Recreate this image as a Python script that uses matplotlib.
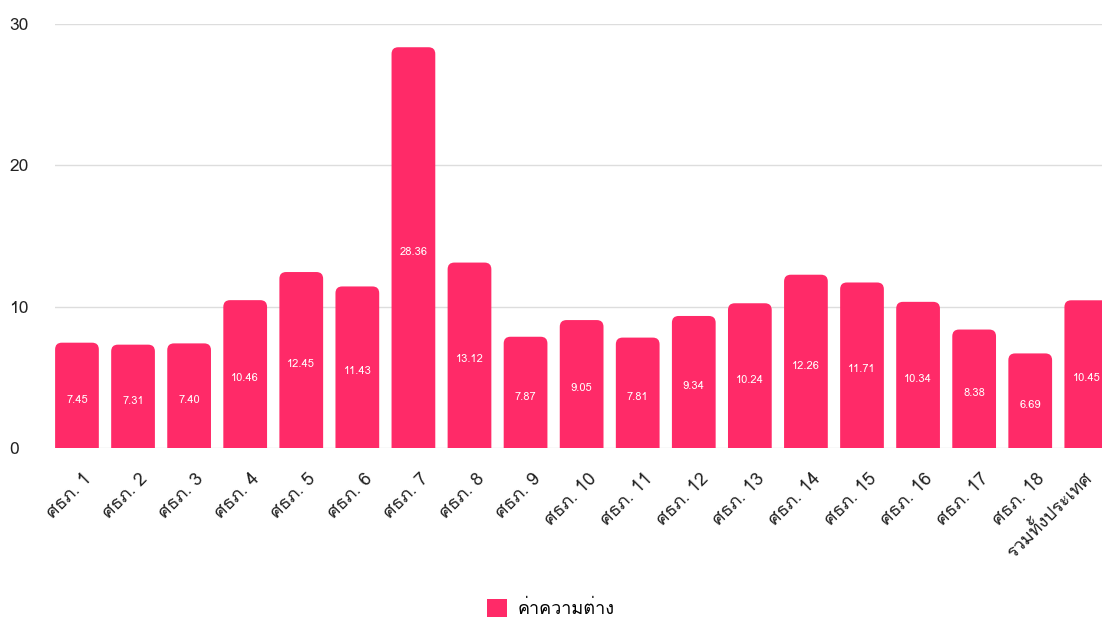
import matplotlib
matplotlib.use('Agg')
import matplotlib.pyplot as plt
import matplotlib.transforms as mtrans
from matplotlib import font_manager
from matplotlib.ft2font import FT2Font
from matplotlib.patches import FancyBboxPatch, Patch

categories = ['ศธภ. %d' % i for i in range(1, 19)] + ['รวมทั้งประเทศ']
values = [7.45, 7.31, 7.40, 10.46, 12.45, 11.43, 28.36, 13.12, 7.87, 9.05,
          7.81, 9.34, 10.24, 12.26, 11.71, 10.34, 8.38, 6.69, 10.45]
value_labels = ['%.2f' % v for v in values]
legend_label = 'ค่าความต่าง'
yticks = [0, 10, 20, 30]

BAR_COLOR = '#ff2a68'


def find_thai_font():
    for f in font_manager.fontManager.ttflist:
        try:
            if 0x0E01 in FT2Font(f.fname).get_charmap():
                return f.name
        except Exception:
            pass
    return None


thai = find_thai_font()
families = ([thai] if thai else []) + ['DejaVu Sans']
plt.rcParams['font.family'] = families

fig = plt.figure(figsize=(11.02, 6.17), dpi=100)
ax = fig.add_axes([0.05, 0.274, 0.95, 0.687])

x = list(range(len(values)))
width = 0.78
ax.set_xlim(-0.39, 18.28)
ax.set_ylim(0, 30)

# px per unit: x ~56.1, y ~14.13
aspect = 56.1 / 14.13
r = 0.12
for xi, v, lab in zip(x, values, value_labels):
    p = FancyBboxPatch((xi - width / 2, -1), width, v + 1,
                       boxstyle='round,pad=0,rounding_size=%f' % r,
                       mutation_aspect=aspect, facecolor=BAR_COLOR,
                       edgecolor='none', zorder=3)
    ax.add_patch(p)
    ax.text(xi, v / 2 - 0.3, lab, ha='center', va='center', color='white',
            fontsize=8, zorder=4)

ax.set_yticks(yticks)
ax.set_yticklabels([str(t) for t in yticks], fontsize=12.5, color='#222222',
                   ha='left')
ax.grid(axis='y', color='#dddddd', linewidth=1, zorder=0)
ax.set_xticks(x)
ax.set_xticklabels(categories, rotation=45, ha='right', va='center',
                   rotation_mode='anchor', fontsize=13, color='#222222')
ax.tick_params(axis='both', length=0)
ax.tick_params(axis='y', pad=33)
ax.tick_params(axis='x', pad=20)
labels = ax.get_xticklabels()
for i, t in enumerate(labels):
    dx = 0.12 if i < len(labels) - 1 else 0.03
    t.set_transform(t.get_transform() +
                    mtrans.ScaledTranslation(dx, 0, fig.dpi_scale_trans))
for s in ax.spines.values():
    s.set_visible(False)

fig.legend(handles=[Patch(facecolor=BAR_COLOR, edgecolor='none')],
           labels=[legend_label], loc='lower center',
           bbox_to_anchor=(0.5, -0.028), frameon=False, fontsize=13,
           handlelength=1.1, handleheight=1.1, handletextpad=0.6)

fig.savefig('out.png', dpi=100)
